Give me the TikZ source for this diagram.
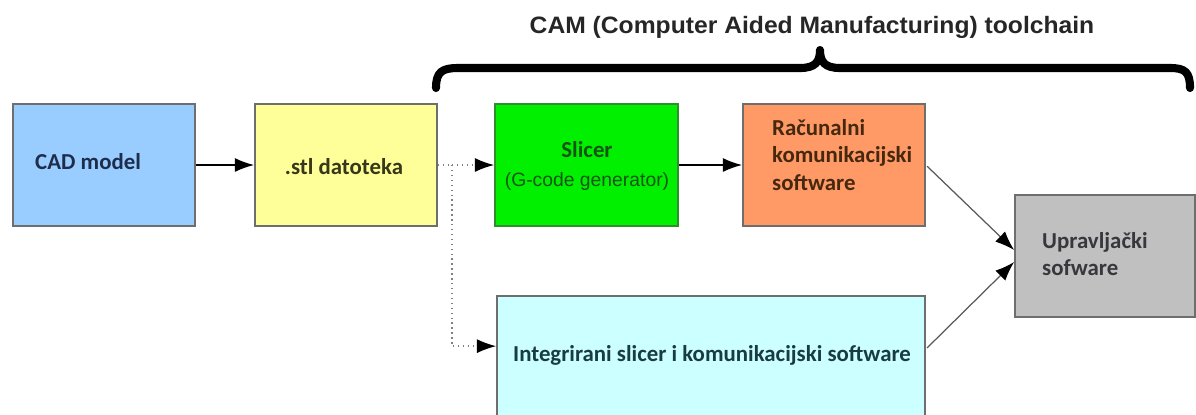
\documentclass[tikz,border=0pt]{standalone}
\usepackage{fontspec}
\usepackage{graphicx}
\setmainfont{Carlito}
\newfontfamily\arialf{Liberation Sans}
\usetikzlibrary{arrows.meta,calc}
\definecolor{cadfill}{HTML}{99CCFF}
\definecolor{stlfill}{HTML}{FFFF99}
\definecolor{slfill}{HTML}{00F000}
\definecolor{racfill}{HTML}{FF9966}
\definecolor{uprfill}{HTML}{C0C0C0}
\definecolor{intfill}{HTML}{CCFFFF}
\definecolor{bordc}{HTML}{6E6E6E}
\definecolor{slbord}{HTML}{2F8F2F}
\begin{document}
\begin{tikzpicture}[x=0.02cm,y=-0.02cm,
  box/.style={draw=bordc, line width=1pt, fill=#1, minimum height=24.4mm, inner sep=0pt},
  btext/.style={font=\fontsize{13}{15.5}\selectfont\bfseries},
  tip/.style={-{Latex[length=11pt,width=8pt,color=black]}},
  conn/.style={line width=0.9pt, tip},
  dconn/.style={line width=0.8pt, draw=gray, dotted},
  diag/.style={line width=0.7pt, draw=black!65, tip, shorten <=1pt}
]
\useasboundingbox (0,0) rectangle (1196,414);
\clip (0,0) rectangle (1196,414);
\fill[white] (0,0) rectangle (1196,414);

% title and brace
\node[font=\arialf\bfseries\fontsize{13.5}{16}\selectfont, text=black!85] (title) at (812,27)
  {\scalebox{1.04}[1]{CAM (Computer Aided Manufacturing) toolchain}};
\draw[line width=4.6pt, line cap=round, line join=round]
  (436,88) .. controls (436,72) and (442,68) .. (458,68) -- (800,68)
  .. controls (815,68) and (820,62) .. (820,50)
  .. controls (820,62) and (825,68) .. (840,68) -- (1170,68)
  .. controls (1185,68) and (1190,72) .. (1190,88);

% boxes
\node[box=cadfill, minimum width=36.4mm] (cad) at (104,165) {};
\node[btext, text={rgb,255:red,30;green,45;blue,75}, anchor=west] (cadt) at (29,162) {CAD model};

\node[box=stlfill, minimum width=36.4mm] (stl) at (346,165) {};
\node[btext, text={rgb,255:red,55;green,55;blue,25}] (stlt) at (344,167) {.stl datoteka};

\node[box=slfill, draw=slbord, minimum width=36.6mm] (sl) at (586.5,165) {};
\node[btext, text={rgb,255:red,20;green,85;blue,20}] (slt1) at (587,150) {Slicer};
\node[font=\arialf\fontsize{11}{13}\selectfont, text={rgb,255:red,20;green,85;blue,20}] (slt2) at (587,181) {(G-code generator)};

\node[box=racfill, minimum width=36.4mm] (rac) at (834,165) {};
\node[btext, text={rgb,255:red,70;green,40;blue,15}, align=left, anchor=west] (ract) at (766,155)
  {Računalni\\komunikacijski\\software};

\node[box=uprfill, minimum width=36mm] (upr) at (1105,256) {};
\node[btext, text={rgb,255:red,55;green,55;blue,60}, align=left, anchor=west] (uprt) at (1036,254)
  {Upravljački\\sofware};

\node[box=intfill, minimum width=85.6mm, minimum height=24mm] (int) at (711,356) {};
\node[btext, text={rgb,255:red,25;green,60;blue,65}] (intt) at (712,355)
  {Integrirani slicer i komunikacijski software};

% connectors
\coordinate (intin) at ($(int.north west)+(0,51)$);
\coordinate (intout) at ($(int.north east)+(0,54)$);
\draw[conn] (cad.east) -- (stl.west);
\draw[conn] (sl.east) -- (rac.west);
\coordinate (br) at (452,165);
\draw[dconn] (stl.east) -- (br);
\draw[dconn, tip] (br) -- (sl.west);
\draw[dconn, tip] (br) |- (intin);
\draw[diag] (rac.east) -- ($(upr.west)+(0,-6)$);
\draw[diag] (intout) -- ($(upr.west)+(0,6)$);
\end{tikzpicture}
\end{document}
